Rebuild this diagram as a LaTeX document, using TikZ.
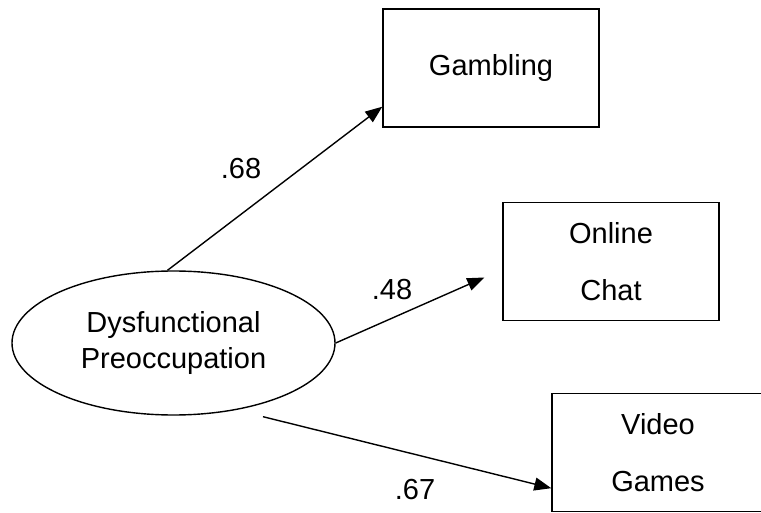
\documentclass[tikz,border=0pt]{standalone}
\usepackage{fontspec}
\setmainfont{Liberation Sans}
\usetikzlibrary{arrows.meta,shapes.geometric,calc}

\begin{document}
\begin{tikzpicture}[x=1pt, y=-1pt,
    latent/.style={ellipse, draw, line width=1.4pt, inner sep=0pt,
                   minimum width=323pt, minimum height=144pt, align=center,
                   font=\fontsize{29}{36}\selectfont},
    observed/.style={rectangle, draw, line width=1.4pt, inner sep=0pt,
                     minimum width=#1, minimum height=118pt, align=center,
                     font=\fontsize{29}{57}\selectfont},
    path/.style={line width=1.4pt, -{Triangle[length=17pt,width=13pt]}},
    coef/.style={font=\fontsize{29}{34}\selectfont, inner sep=0pt}
]
\useasboundingbox (0,0) rectangle (761,513);

\node[latent] (dys) at (173.5, 343) {Dysfunctional\\Preoccupation};
\node[observed=216pt] (gamb) at (491, 68) {Gambling};
\node[observed=216pt] (chat) at (611, 261.5) {Online\\Chat};
\node[observed=212pt] (video) at (658, 452.5) {Video\\Games};

% Paths
\coordinate (vstart) at ([xshift=89.5pt, yshift=-1pt]dys.south);
\draw[path] ([xshift=-6pt]dys.north) -- ([yshift=21pt]gamb.south west);
\draw[path] (dys.east) -- ([xshift=-18pt, yshift=-16pt]chat.west);
\draw[path] (vstart) -- ([yshift=24pt]video.south west);

% Labels
\node[coef] (c68) at (241, 169) {.68};
\node[coef] (c48) at (392, 290) {.48};
\node[coef] (c67) at (415, 490) {.67};

\end{tikzpicture}
\end{document}
